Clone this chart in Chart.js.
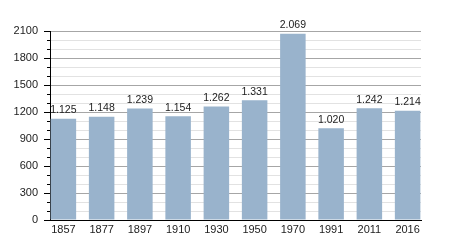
<!DOCTYPE html>
<html>
<head>
<meta charset="utf-8">
<script src="https://cdn.jsdelivr.net/npm/chart.js@4.4.1/dist/chart.umd.min.js"></script>
<style>
  html, body { margin: 0; padding: 0; background: #fff; }
  #wrap { width: 450px; height: 250px; }
</style>
</head>
<body>
<div id="wrap"><canvas id="grafico"></canvas></div>
<script>
// Datos de población
const anios = ["1857", "1877", "1897", "1910", "1930", "1950", "1970", "1991", "2011", "2016"];
const habitantes = [1125, 1148, 1239, 1154, 1262, 1331, 2069, 1020, 1242, 1214];
const marcasY = [0, 300, 600, 900, 1200, 1500, 1800, 2100];

const fuente = "'Liberation Sans', Arial, sans-serif";

// Etiquetas encima de cada barra y marcas menores del eje Y
const extras = {
    id: "extras",
    afterDatasetsDraw(chart) {
        const ctx = chart.ctx;
        const meta = chart.getDatasetMeta(0);
        ctx.save();
        ctx.font = "10.5px " + fuente;
        ctx.fillStyle = "#222";
        ctx.textAlign = "center";
        ctx.textBaseline = "bottom";
        meta.data.forEach((barra, i) => {
            ctx.fillText(habitantes[i].toLocaleString("de-DE"), barra.x, barra.y - 3);
        });
        // marcas menores cada 100
        const y = chart.scales.y;
        const x0 = chart.chartArea.left;
        ctx.strokeStyle = "#000";
        ctx.lineWidth = 1;
        for (let v = 0; v <= 2100; v += 100) {
            if (marcasY.includes(v)) continue;
            const py = Math.round(y.getPixelForValue(v)) + 0.5;
            ctx.beginPath();
            ctx.moveTo(x0 - 3, py);
            ctx.lineTo(x0, py);
            ctx.stroke();
        }
        ctx.restore();
    }
};

const ctx = document.getElementById("grafico");

new Chart(ctx, {
    type: "bar",
    data: {
        datasets: [
            {
                data: habitantes.map((v, i) => ({ x: i, y: v })),
                backgroundColor: "#99b3cc",
                borderWidth: 0,
                barPercentage: 0.667,
                categoryPercentage: 1,
            },
        ],
    },
    options: {
        responsive: true,
        maintainAspectRatio: false,
        animation: false,
        layout: { padding: { left: 0, right: 29, top: 31, bottom: 0 } },
        plugins: {
            legend: { display: false },
            tooltip: { enabled: false },
        },
        scales: {
            x: {
                type: "linear",
                offset: false,
                min: -0.35,
                max: 9.35,
                afterFit: (s) => { s.height = 30; },
                grid: { display: false, drawTicks: false },
                border: { color: "#000", width: 1 },
                ticks: {
                    stepSize: 1,
                    includeBounds: false,
                    autoSkip: false,
                    maxRotation: 0,
                    padding: 3,
                    color: "#222",
                    font: { family: fuente, size: 11 },
                    callback: (v) => (Number.isInteger(v) ? anios[v] : ""),
                },
            },
            y: {
                min: 0,
                max: 2100,
                afterFit: (s) => { s.width = 50; },
                border: { color: "#000", width: 1 },
                grid: {
                    color: (c) => (c.tick && c.tick.value % 300 === 0 ? "#a6a6a6" : "#e2e2e2"),
                    tickColor: (c) => (c.tick && c.tick.value % 300 === 0 ? "#000" : "rgba(0,0,0,0)"),
                    tickLength: 6,
                    lineWidth: 1,
                },
                ticks: {
                    stepSize: 100,
                    autoSkip: false,
                    padding: 6,
                    color: "#222",
                    font: { family: fuente, size: 11 },
                    callback: (v) => (marcasY.includes(v) ? String(v) : ""),
                },
            },
        },
    },
    plugins: [extras],
});
</script>
</body>
</html>
